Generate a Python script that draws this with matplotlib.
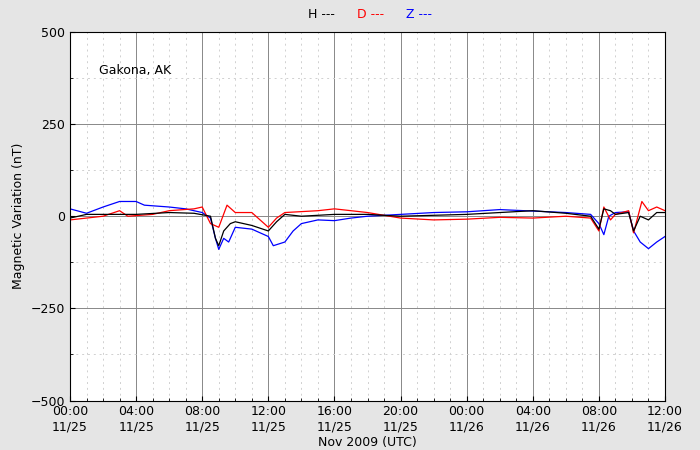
import matplotlib
matplotlib.use("Agg")
import matplotlib.pyplot as plt
from matplotlib.ticker import MultipleLocator

t_h = [0,1,2,4,6,7.5,8.5,8.8,9,9.3,9.7,10,11,12,12.5,13,14,16,18,20,24,28,30,31.5,32,32.3,32.7,33,33.8,34.1,34.5,35,35.5,36]
h = [-5,5,5,5,10,8,0,-60,-80,-40,-20,-15,-25,-40,-15,5,0,5,5,0,5,15,8,0,-35,20,15,5,10,-40,0,-10,10,10]
t_d = [0,1,2,3,3.5,5,6,7.5,8,8.5,9,9.5,10,11,12,12.5,13,15,16,18,20,22,24,26,28,30,31.5,32,32.3,32.7,33,33.8,34.1,34.6,35,35.5,36]
d = [-10,-5,0,15,0,5,15,20,25,-20,-30,30,10,10,-30,-5,10,15,20,10,-5,-10,-8,-3,-5,0,-5,-40,25,-10,5,15,-45,40,15,25,15]
t_z = [0,1,2,3,4,4.5,6,7,8,8.5,8.8,9,9.3,9.6,10,11,12,12.3,13,13.5,14,15,16,17,18,20,22,24,26,28,30,31.5,32,32.3,32.6,33,33.8,34.1,34.5,35,35.5,36]
z = [20,8,25,40,40,30,25,20,10,-5,-60,-90,-60,-70,-30,-35,-55,-80,-70,-40,-20,-10,-12,-5,0,5,10,12,18,14,10,5,-20,-50,0,10,12,-40,-70,-88,-70,-55]
xticks = list(range(0, 37, 4))
xlabels = ["00:00\n11/25","04:00\n11/25","08:00\n11/25","12:00\n11/25","16:00\n11/25","20:00\n11/25",
           "00:00\n11/26","04:00\n11/26","08:00\n11/26","12:00\n11/26"]
yticks = [-500, -250, 0, 250, 500]
ylabels = ["\u2212500", "\u2212250", "0", "250", "500"]

fig = plt.figure(figsize=(7, 4.5), dpi=100, facecolor="#e5e5e5")
ax = fig.add_axes([0.1, 0.11, 0.85, 0.819])
ax.plot(t_z, z, color="blue", lw=0.9)
ax.plot(t_d, d, color="red", lw=0.9)
ax.plot(t_h, h, color="black", lw=0.9)
ax.set_xlim(0, 36)
ax.set_ylim(-500, 500)
ax.set_xticks(xticks)
ax.set_xticklabels(xlabels, fontsize=9)
ax.set_yticks(yticks)
ax.set_yticklabels(ylabels, fontsize=9)
ax.xaxis.set_minor_locator(MultipleLocator(1))
ax.yaxis.set_minor_locator(MultipleLocator(125))
ax.grid(True, which="major", color="#888888", lw=0.7)
ax.grid(True, which="minor", color="#d0d0d0", lw=0.7, ls=(0, (2, 4)))
ax.tick_params(which="both", direction="in")
ax.set_axisbelow(True)
ax.set_xlabel("Nov 2009 (UTC)", fontsize=9, labelpad=2)
ax.set_ylabel("Magnetic Variation (nT)", fontsize=9)
ax.text(0.048, 0.885, "Gakona, AK", transform=ax.transAxes, fontsize=9)
fig.text(0.44, 0.96, "H ---", color="black", fontsize=9)
fig.text(0.51, 0.96, "D ---", color="red", fontsize=9)
fig.text(0.58, 0.96, "Z ---", color="blue", fontsize=9)
fig.savefig("out.png", dpi=100, facecolor=fig.get_facecolor())
